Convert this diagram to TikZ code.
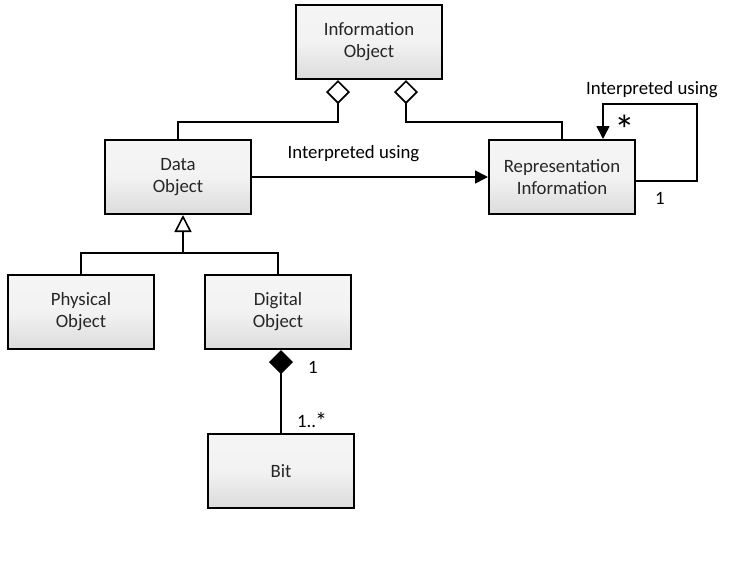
\documentclass[tikz,border=0pt]{standalone}
\usepackage{fontspec}
\setmainfont{Carlito}
\usetikzlibrary{arrows.meta}

\tikzset{
  cls/.style={draw=black, line width=1pt, minimum width=73pt, minimum height=37pt,
    align=center, top color=gray!8, bottom color=gray!28, middle color=gray!10,
    text=black!85, font=\fontsize{9.4}{11}\selectfont},
  lbl/.style={font=\fontsize{9.4}{11}\selectfont, inner sep=1pt},
  link/.style={line width=0.8pt},
  agg/.style={link, -{Diamond[open, length=12pt, width=12pt, line width=0.8pt]}},
  comp/.style={link, -{Diamond[length=12pt, width=12pt]}},
  gen/.style={link, -{Triangle[open, length=8.5pt, width=8.5pt, line width=0.8pt]}},
  assoc/.style={link, -{Triangle[length=6.5pt, width=6.5pt]}}
}

\begin{document}
\begin{tikzpicture}[x=0.5pt, y=-0.5pt]
  \useasboundingbox[fill=white] (0,0) rectangle (730,574);

  \node[cls] (info) at (369,42) {Information\\Object};
  \node[cls] (dat) at (178,177) {Data\\Object};
  \node[cls] (rep) at (562,177) {Representation\\Information};
  \node[cls] (phy) at (81,312) {Physical\\Object};
  \node[cls] (dig) at (278,312) {Digital\\Object};
  \node[cls] (bit) at (281,471) {Bit};

  % aggregation
  \draw[agg] (dat.north) -- ++(0,-17) -| ([xshift=-15.5pt]info.south);
  \draw[agg] (rep.north) -- ++(0,-17) -| ([xshift=18.5pt]info.south);

  % generalisation
  \draw[gen] (phy.north) -- ++(0,-21) -| ([xshift=2.5pt]dat.south);
  \draw[link] (dig.north) |- ([yshift=10.5pt]phy.north);

  % composition
  \draw[comp] (bit.north) -- (bit.north |- dig.south);
  \node[lbl] (one) at (313,367) {1};
  \node[lbl] (many) at (312,421) {1..\kern-0.5pt\raisebox{-1pt}{\large *}};

  % interpretation
  \draw[assoc] (dat.east) -- (rep.west)
    node[lbl, pos=0.43, above=6pt] (iu) {Interpreted using};
  \draw[assoc] ([yshift=-2pt]rep.east) -| ++(61,-77) -| ([xshift=20.5pt]rep.north);
  \node[lbl] (selfiu) at (652,90) {Interpreted using};
  \node[lbl, font=\huge] (star) at (625,130) {*};
  \node[lbl] (selfone) at (660,198) {1};
\end{tikzpicture}
\end{document}
